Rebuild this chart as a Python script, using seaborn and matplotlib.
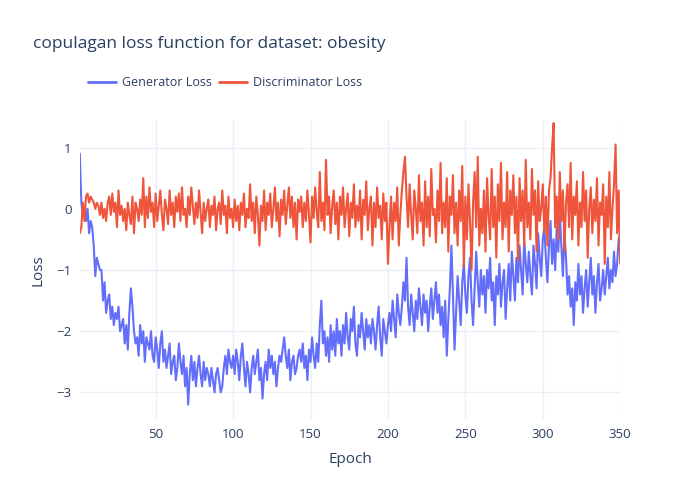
import numpy as np
import pandas as pd
import matplotlib
matplotlib.use("Agg")
import matplotlib.pyplot as plt
import seaborn as sns

# values (estimated)
generator_loss = [
    0.9, 0.1, -0.1, 0.0, -0.2, 0.0, -0.4, -0.2, -0.3, -0.6,
    -1.1, -0.8, -0.9, -1.0, -1.0, -1.5, -1.2, -1.7, -1.5, -1.4,
    -1.8, -1.6, -1.9, -1.7, -1.8, -1.6, -2.0, -1.9, -1.8, -2.2,
    -1.9, -2.3, -1.7, -1.3, -1.6, -2.0, -2.2, -2.1, -2.4, -1.9,
    -2.2, -2.0, -2.5, -2.1, -2.2, -2.3, -2.0, -2.4, -2.5, -2.1,
    -2.3, -2.6, -2.2, -2.0, -2.5, -2.3, -2.6, -2.4, -2.2, -2.7,
    -2.5, -2.4, -2.8, -2.6, -2.2, -2.5, -2.7, -2.4, -2.9, -2.6,
    -3.2, -2.7, -2.4, -2.8, -2.5, -2.9, -2.6, -2.4, -2.7, -2.9,
    -2.5, -2.8, -2.6, -2.7, -2.9, -2.6, -2.8, -3.0, -2.7, -2.6,
    -2.8, -3.0, -2.9, -2.6, -2.4, -2.7, -2.3, -2.5, -2.6, -2.4,
    -2.7, -2.3, -2.5, -2.8, -2.4, -2.2, -2.6, -2.9, -2.5, -2.7,
    -3.0, -2.6, -2.4, -2.7, -2.5, -2.3, -2.8, -2.6, -3.1, -2.7,
    -2.5, -2.8, -2.3, -2.6, -2.4, -2.7, -2.5, -2.9, -2.6, -2.4,
    -2.5, -2.3, -2.1, -2.4, -2.6, -2.3, -2.8, -2.5, -2.4, -2.7,
    -2.6, -2.4, -2.3, -2.5, -2.2, -2.6, -2.4, -2.8, -2.3, -2.5,
    -2.1, -2.4, -2.6, -2.2, -2.5, -1.9, -1.5, -2.2, -2.0, -2.4,
    -2.1, -2.5, -1.9, -2.3, -2.0, -2.4, -1.8, -2.2, -2.0, -2.4,
    -1.9, -2.2, -1.7, -2.1, -2.3, -1.8, -2.0, -1.6, -2.2, -2.4,
    -1.9, -2.1, -1.7, -2.0, -2.3, -1.8, -2.1, -1.9, -2.2, -1.8,
    -2.0, -2.3, -1.9, -1.6, -2.1, -2.4, -1.8, -2.0, -2.2, -1.9,
    -1.7, -2.0, -1.5, -1.8, -2.1, -1.4, -1.7, -1.9, -1.6, -1.2,
    -1.5, -0.8, -1.6, -1.9, -1.4, -1.7, -2.0, -1.5, -1.8, -1.3,
    -1.6, -1.9, -1.4, -1.7, -1.5, -2.0, -1.6, -1.3, -1.8, -1.5,
    -1.2, -1.7, -1.4, -1.9, -1.6, -2.1, -1.5, -2.4, -1.8, -1.3,
    -0.6, -1.4, -2.3, -1.7, -1.1, -1.5, -1.9, -1.2, -0.9, -1.4,
    -1.7, -1.1, -0.8, -1.5, -1.9, -1.3, -0.7, -1.2, -1.6, -1.0,
    -1.4, -1.1, -1.7, -1.0, -1.3, -0.8, -1.5, -1.2, -1.9, -1.1,
    -1.4, -0.9, -1.6, -1.2, -1.0, -1.8, -1.3, -0.9, -1.5, -0.7,
    -1.1, -1.5, -0.8, -1.2, -0.6, -1.0, -1.4, -0.5, -0.9, -1.2,
    -0.7, -1.1, -1.4, -0.6, -0.9, -1.3, -0.4, -0.8, -1.1, -0.5,
    -0.3, -0.8, -1.2, -0.6, -0.2, -0.9, -0.5, -1.0, -0.3, -0.7,
    -0.1, -0.6, -1.1, -0.4, -0.8, -1.4, -1.1, -1.6, -1.3, -1.9,
    -1.2, -1.5, -0.9, -1.4, -1.1, -1.7, -1.3, -1.0, -1.6, -1.2,
    -0.8, -1.4, -1.1, -1.7, -1.2, -0.9, -1.5, -1.3, -1.0, -1.4,
    -1.1, -0.8, -1.3, -1.0, -1.2, -0.7, -1.1, -0.9, -0.5, -0.4,
]
discriminator_loss = [
    -0.4, -0.3, 0.1, -0.2, 0.2, 0.25, 0.1, 0.2, 0.15, 0.1,
    0.0, 0.1, 0.05, -0.1, 0.1, -0.15, 0.0, -0.2, 0.1, 0.2,
    -0.1, 0.25, -0.05, 0.1, -0.3, 0.3, -0.1, 0.05, -0.2, 0.0,
    -0.35, 0.1, -0.1, -0.25, 0.2, -0.4, 0.1, 0.0, -0.2, 0.15,
    -0.1, 0.5, -0.3, 0.2, -0.15, 0.35, -0.05, 0.1, -0.3, 0.25,
    -0.2, 0.05, 0.3, -0.1, -0.35, 0.15, 0.0, -0.25, 0.3, -0.1,
    0.1, -0.3, 0.2, -0.05, 0.25, -0.2, 0.35, -0.1, 0.0, -0.3,
    0.2, -0.1, 0.35, 0.05, -0.25, 0.1, -0.15, 0.3, -0.05, -0.4,
    0.1, -0.2, 0.0, 0.15, -0.3, 0.05, -0.1, 0.2, -0.35, 0.0,
    0.1, -0.25, 0.3, -0.1, 0.05, -0.4, 0.2, -0.15, 0.0, -0.3,
    0.15, -0.2, 0.05, -0.35, 0.1, -0.1, 0.25, -0.3, 0.0, -0.15,
    0.4, -0.2, 0.1, -0.4, 0.2, -0.1, -0.6, 0.05, -0.2, 0.3,
    -0.35, 0.1, -0.1, 0.25, -0.3, 0.0, 0.35, -0.2, 0.1, -0.45,
    0.15, -0.1, 0.3, -0.25, 0.05, 0.35, -0.15, 0.2, -0.3, 0.1,
    -0.5, 0.15, -0.05, 0.2, -0.3, 0.1, -0.2, 0.3, -0.1, -0.55,
    0.2, -0.15, 0.35, -0.05, -0.3, 0.6, -0.2, 0.1, -0.35, 0.8,
    -0.1, 0.2, -0.4, 0.05, 0.3, -0.25, 0.1, -0.5, 0.2, -0.1,
    0.35, -0.3, 0.0, 0.25, -0.45, 0.1, -0.15, 0.4, -0.3, 0.05,
    -0.2, 0.3, -0.5, 0.15, -0.1, 0.45, -0.35, 0.0, 0.2, -0.6,
    0.1, -0.3, 0.35, -0.15, 0.05, -0.5, 0.25, -0.2, 0.1, -0.9,
    -0.3, 0.2, -0.5, 0.1, -0.2, 0.35, -0.6, -0.1, 0.3, 0.6,
    0.85, 0.2, -0.3, 0.4, -0.1, -0.5, 0.3, 0.0, -0.4, 0.55,
    -0.2, 0.1, -0.6, 0.45, -0.3, 0.2, -0.45, 0.65, -0.1, 0.0,
    -0.55, 0.3, -0.2, 0.75, -0.4, 0.1, -0.3, 0.5, -0.7, 0.2,
    -0.1, 0.55, -0.4, 0.1, -0.6, 0.3, -0.2, 0.7, -0.95, 0.2,
    -0.5, 0.4, -0.2, -1.0, 0.1, 0.6, -0.3, 0.85, -0.6, 0.0,
    -0.4, 0.3, -0.7, 0.5, -0.1, -0.5, 0.65, -0.3, 0.2, -0.8,
    0.4, -0.2, 0.75, -0.5, 0.1, -0.3, 0.6, -0.7, 0.3, -0.1,
    0.55, -0.4, 0.2, -0.85, 0.5, -0.2, 0.3, -0.6, 0.8, -0.3,
    0.1, -0.5, 0.65, -0.1, 0.3, -0.7, 0.45, -0.2, 0.0, 0.4,
    -0.4, 0.2, -0.6, 0.3, 0.5, 1.0, 1.4, -0.3, 0.2, -0.5,
    0.6, -0.2, 0.3, -0.7, 0.1, 0.4, -0.3, 0.75, -0.5, 0.2,
    -0.1, 0.45, -0.6, 0.1, -0.3, 0.6, -0.2, 0.3, -0.8, 0.0,
    0.35, -0.4, 0.15, -0.2, 0.5, -0.6, 0.1, -0.1, 0.4, -0.9,
    0.2, -0.3, 0.6, -0.5, 0.0, 0.4, 1.05, -0.4, 0.3, -0.9,
]
epochs = list(range(1, len(generator_loss) + 1))

df = pd.DataFrame({
    'Epoch': epochs * 2,
    'Loss': generator_loss + discriminator_loss,
    'series': ['Generator Loss'] * len(epochs) + ['Discriminator Loss'] * len(epochs),
})

sns.set_style('white')
plt.rcParams['font.family'] = ['Open Sans', 'DejaVu Sans']
text_color = '#2a3f5f'

fig = plt.figure(figsize=(7, 5), dpi=100)
ax = fig.add_axes([0.114, 0.16, 0.772, 0.60])
sns.lineplot(data=df, x='Epoch', y='Loss', hue='series',
             palette={'Generator Loss': '#636efa', 'Discriminator Loss': '#ef553b'},
             linewidth=1.5, ax=ax, legend=False)

ax.set_xlim(1, 350)
ax.set_ylim(-3.45, 1.45)
ax.set_xticks([50, 100, 150, 200, 250, 300, 350])
ax.set_yticks([-3, -2, -1, 0, 1])
ax.grid(True, color='#ebf0f8', linewidth=1)
ax.set_axisbelow(True)
for s in ax.spines.values():
    s.set_visible(False)
ax.tick_params(colors=text_color, labelsize=9.5, length=0, pad=6)
ax.set_xlabel('Epoch', color=text_color, fontsize=11, labelpad=8)
ax.set_ylabel('Loss', color=text_color, fontsize=11, labelpad=8)

fig.text(0.047, 0.905, 'copulagan loss function for dataset: obesity',
         color=text_color, fontsize=12.5)

handles = [plt.Line2D([], [], color='#636efa', linewidth=2),
           plt.Line2D([], [], color='#ef553b', linewidth=2)]
fig.legend(handles, ['Generator Loss', 'Discriminator Loss'], loc='center left',
           bbox_to_anchor=(0.11, 0.835), ncol=2, frameon=False, fontsize=9,
           labelcolor=text_color, handlelength=2.2, columnspacing=0.6, handletextpad=0.5)

fig.savefig('out.png', dpi=100)
